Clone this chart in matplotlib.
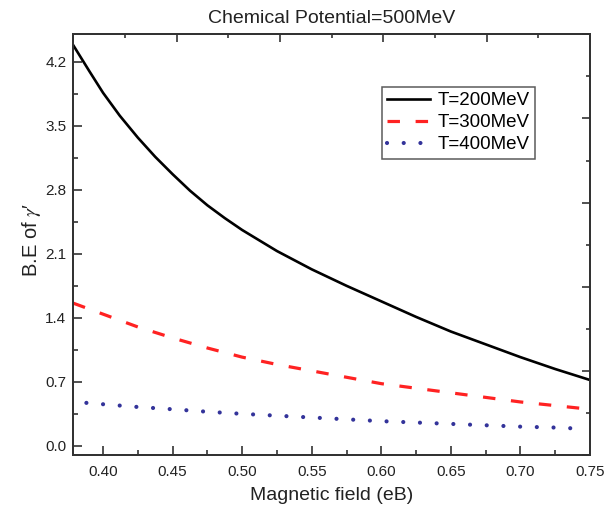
import matplotlib
matplotlib.use("Agg")
import matplotlib.pyplot as plt
from matplotlib.ticker import MultipleLocator, NullFormatter

plt.rcParams['font.family'] = ['Liberation Sans', 'DejaVu Sans']
plt.rcParams['mathtext.fontset'] = 'stix'

# ---- data ----
x_t200 = [0.3786, 0.39, 0.40, 0.412, 0.425, 0.4375, 0.45, 0.4625, 0.475, 0.4875,
          0.50, 0.525, 0.55, 0.575, 0.60, 0.625, 0.65, 0.675, 0.70, 0.725, 0.75]
y_t200 = [4.38, 4.10, 3.86, 3.61, 3.37, 3.16, 2.97, 2.79, 2.63, 2.49,
          2.36, 2.13, 1.93, 1.75, 1.58, 1.41, 1.25, 1.11, 0.97, 0.84, 0.72]

x_t300 = [0.3786, 0.40, 0.425, 0.45, 0.475, 0.50, 0.525, 0.55, 0.575,
          0.60, 0.625, 0.65, 0.675, 0.70, 0.725, 0.75]
y_t300 = [1.56, 1.44, 1.30, 1.18, 1.07, 0.97, 0.89, 0.82, 0.75,
          0.68, 0.63, 0.58, 0.53, 0.48, 0.44, 0.40]

x_t400 = [0.388, 0.40, 0.425, 0.45, 0.475, 0.50, 0.525, 0.55, 0.575,
          0.60, 0.625, 0.65, 0.675, 0.70, 0.725, 0.74]
y_t400 = [0.47, 0.455, 0.425, 0.40, 0.373, 0.35, 0.33, 0.31, 0.29,
          0.27, 0.255, 0.24, 0.225, 0.21, 0.20, 0.19]

labels = ["T=200MeV", "T=300MeV", "T=400MeV"]
title = "Chemical Potential=500MeV"
xlabel = "Magnetic field (eB)"
ylabel = "B.E of $\\gamma$\u2032"
yticks = [0.0, 0.7, 1.4, 2.1, 2.8, 3.5, 4.2]
xticks = [0.40, 0.45, 0.50, 0.55, 0.60, 0.65, 0.70, 0.75]

W, H = 604, 508
fig = plt.figure(figsize=(W / 100, H / 100), dpi=100)
L, R, T, B = 73.3, 590, 34.3, 455
ax = fig.add_axes([L / W, 1 - B / H, (R - L) / W, (B - T) / H])

ax.plot(x_t200, y_t200, color='black', lw=1.9, label=labels[0],
        solid_joinstyle='round')
ax.plot(x_t300, y_t300, color='#ff2222', lw=2.3, linestyle=(0, (3.9, 4.9)),
        label=labels[1])
ax.plot(x_t400, y_t400, color='#33339a', lw=3.0, linestyle=(0, (0.01, 4.0)),
        dash_capstyle='round', label=labels[2])

ax.set_xlim(0.3786, 0.75)
ax.set_ylim(-0.1, 4.5)
ax.set_xticks(xticks)
ax.set_xticklabels([f"{v:.2f}" for v in xticks])
ax.set_yticks(yticks)
ax.set_yticklabels([f"{v:.1f}" for v in yticks])
ax.xaxis.set_minor_locator(MultipleLocator(0.025))
ax.yaxis.set_minor_locator(MultipleLocator(0.35))
ax.tick_params(which='both', direction='in', top=False, right=False,
               width=1.1, colors='#222222', labelcolor='#222222')
ax.tick_params(which='major', length=6.5, labelsize=11)
ax.tick_params(axis='x', which='major', pad=7)
ax.tick_params(axis='y', which='major', pad=5)
ax.tick_params(which='minor', length=3.5)
for s in ax.spines.values():
    s.set_linewidth(1.2)
    s.set_color('#333333')

# top / right mirror axes with their own tick spacing (as in the original)
axt = ax.twiny()
axt.set_xlim(0, 5)
axt.xaxis.set_major_locator(MultipleLocator(1))
axt.xaxis.set_minor_locator(MultipleLocator(0.5))
axt.xaxis.set_major_formatter(NullFormatter())
axt.tick_params(which='both', direction='in', width=1.1, colors='#222222')
axt.tick_params(which='major', length=5.5)
axt.tick_params(which='minor', length=3)
axr = ax.twinx()
axr.set_ylim(0, 5)
axr.yaxis.set_major_locator(MultipleLocator(1))
axr.yaxis.set_minor_locator(MultipleLocator(0.5))
axr.yaxis.set_major_formatter(NullFormatter())
axr.tick_params(which='both', direction='in', width=1.1, colors='#222222')
axr.tick_params(which='major', length=5.5)
axr.tick_params(which='minor', length=3)
for a in (axt, axr):
    for s in a.spines.values():
        s.set_linewidth(1.2)
        s.set_color('#333333')

ax.set_title(title, fontsize=14, pad=8, color='#222222')
ax.set_xlabel(xlabel, fontsize=14, color='#222222', labelpad=6)
ax.set_ylabel(ylabel, fontsize=14.5, color='#222222')
ax.yaxis.set_label_coords(-0.058, 0.51)

leg = ax.legend(loc='upper left', bbox_to_anchor=((381.7 - L) / (R - L), 1 - (86.7 - T) / (B - T)),
                fontsize=13.5, frameon=True, fancybox=False, edgecolor='#333333',
                handlelength=2.3, handletextpad=0.4, borderpad=0.28,
                labelspacing=0.27, borderaxespad=0)
leg.get_frame().set_linewidth(1.1)
leg.set_zorder(5)

fig.savefig("out.png", dpi=100)
